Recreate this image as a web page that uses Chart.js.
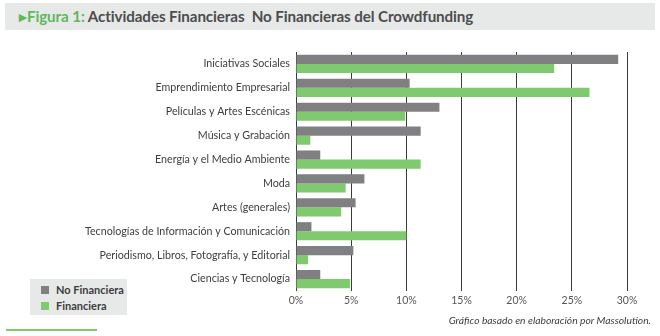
<!DOCTYPE html>
<html>
<head>
<meta charset="utf-8">
<script src="https://cdn.jsdelivr.net/npm/chart.js@4.4.1/dist/chart.umd.min.js"></script>
<style>
  html, body { margin: 0; padding: 0; background: #fff; }
  #wrap { position: relative; width: 660px; height: 336px; overflow: hidden; font-family: Lato, "Open Sans", sans-serif; }
  #title { position: absolute; left: 5px; top: 3px; width: 650px; height: 27px; background: #e7e8e8; }
  #title span { position: absolute; left: 14px; top: 4px; font-size: 15.2px; font-weight: bold; color: #4d4d4d; white-space: nowrap; letter-spacing: -0.1px; }
  #title .g { color: #5fb85a; position: static; }
  #canvasBox { position: absolute; left: 0; top: 0; width: 660px; height: 336px; }
  #legend { position: absolute; left: 30px; top: 279px; width: 97px; height: 36px; background: #e7e8e8; }
  .li { position: absolute; left: 11px; font-size: 11px; font-weight: bold; color: #3d3d3d; white-space: nowrap; line-height: 12px; }
  .li i { display: inline-block; width: 8px; height: 8px; margin-right: 7px; vertical-align: 0px; }
  #note { position: absolute; right: 9px; top: 314px; font-size: 10.3px; font-style: italic; color: #3d3d3d; }
  #line { position: absolute; left: 6px; top: 329px; width: 91px; height: 2px; background: #7fc96f; }
</style>
</head>
<body>
<div id="wrap">
  <div id="title"><span><span class="g">&#9656;Figura 1:</span> Actividades Financieras&nbsp; No Financieras del Crowdfunding</span></div>
  <div id="canvasBox"><canvas id="c" width="660" height="336"></canvas></div>
  <div id="legend"></div>
  <div id="note">Gráfico basado en elaboración por Massolution.</div>
  <div id="line"></div>
</div>
<script>
const categories = [
  "Iniciativas Sociales",
  "Emprendimiento Empresarial",
  "Películas y Artes Escénicas",
  "Música y Grabación",
  "Energía y el Medio Ambiente",
  "Moda",
  "Artes (generales)",
  "Tecnologías de Información y Comunicación",
  "Periodismo, Libros, Fotografía, y Editorial",
  "Ciencias y Tecnología"
];
const noFinanciera = [29.2, 10.3, 13.0, 11.3, 2.2, 6.2, 5.4, 1.4, 5.2, 2.2];
const financiera   = [23.4, 26.6, 9.9, 1.3, 11.3, 4.5, 4.1, 10.0, 1.1, 4.9];
const seriesNames = ["No Financiera", "Financiera"];
const seriesColors = ["#808083", "#7fc96f"];
const tickValues = [0, 5, 10, 15, 20, 25, 30];

const legendEl = document.getElementById('legend');
seriesNames.forEach((n, i) => {
  const d = document.createElement('div');
  d.className = 'li';
  d.style.top = (5 + i * 16) + 'px';
  d.innerHTML = '<i style="background:' + seriesColors[i] + '"></i>' + n;
  legendEl.appendChild(d);
});

new Chart(document.getElementById('c'), {
  type: 'bar',
  data: {
    labels: categories,
    datasets: [
      { label: seriesNames[0], data: noFinanciera, backgroundColor: seriesColors[0], categoryPercentage: 0.76, barPercentage: 1.0 },
      { label: seriesNames[1], data: financiera, backgroundColor: seriesColors[1], categoryPercentage: 0.76, barPercentage: 1.0 }
    ]
  },
  options: {
    indexAxis: 'y',
    responsive: false,
    animation: false,
    devicePixelRatio: 1,
    layout: { padding: { left: 0, right: 33, top: 52, bottom: 0 } },
    plugins: { legend: { display: false }, tooltip: { enabled: false } },
    scales: {
      x: {
        min: 0, max: 30,
        afterBuildTicks: (s) => { s.ticks = tickValues.map(v => ({ value: v })); },
        afterFit: (s) => { s.height = 45; },
        grid: { color: '#3c3c3c', lineWidth: 1, drawTicks: false },
        border: { display: false },
        ticks: { padding: 3, color: '#555', font: { family: 'Lato', size: 10.5 }, callback: (v) => v + '%' }
      },
      y: {
        afterFit: (s) => { s.width = 296; },
        grid: { display: false, drawTicks: false },
        border: { display: false },
        ticks: { padding: 6, color: '#3d3d3d', font: { family: 'Lato', size: 10.7 } }
      }
    }
  }
});
</script>
</body>
</html>
